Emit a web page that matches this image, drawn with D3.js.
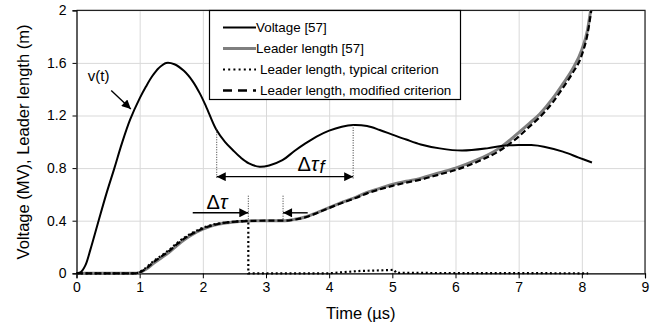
<!DOCTYPE html>
<html>
<head>
<meta charset="utf-8">
<script src="https://cdn.jsdelivr.net/npm/d3@7"></script>
<style>
  body { margin: 0; background: #fff; }
  svg, svg text { font-family: "Liberation Sans", Arial, sans-serif; }
  .grid line { stroke: #d9d9d9; stroke-width: 1; }
  .grid path { display: none; }
</style>
</head>
<body>
<script>
let w = 658;
let h = 326;

// x ticks / y ticks
let xTicks = [0, 1, 2, 3, 4, 5, 6, 7, 8, 9];
let yTicks = [0, 0.4, 0.8, 1.2, 1.6, 2];

// Voltage [57]
let voltT = [0, 0.07, 0.14, 0.22, 0.35, 0.47, 0.6, 0.72, 0.85, 1.0, 1.1, 1.2, 1.3, 1.42, 1.55, 1.7, 1.84, 1.95, 2.05, 2.21, 2.35, 2.47, 2.6, 2.73, 2.9, 3.05, 3.26, 3.45, 3.63, 3.8, 4.0, 4.2, 4.38, 4.6, 4.8, 5.0, 5.22, 5.45, 5.75, 6.1, 6.5, 6.75, 7.0, 7.2, 7.4, 7.7, 7.95, 8.16];
let voltV = [0, 0.01, 0.06, 0.18, 0.4, 0.6, 0.8, 0.99, 1.17, 1.33, 1.42, 1.5, 1.56, 1.60, 1.59, 1.54, 1.46, 1.37, 1.27, 1.095, 1.0, 0.94, 0.88, 0.836, 0.81, 0.82, 0.86, 0.93, 0.99, 1.04, 1.085, 1.115, 1.128, 1.12, 1.09, 1.055, 1.017, 0.98, 0.95, 0.933, 0.95, 0.97, 0.976, 0.975, 0.963, 0.925, 0.88, 0.843];

// Leader length [57]
let leadT = [0, 0.95, 1.1, 1.22, 1.35, 1.48, 1.6, 1.74, 1.87, 2.0, 2.13, 2.26, 2.4, 2.53, 2.73, 3.0, 3.3, 3.45, 3.64, 3.8, 4.0, 4.2, 4.43, 4.6, 4.8, 5.0, 5.22, 5.43, 5.75, 6.0, 6.33, 6.69, 7.0, 7.17, 7.33, 7.54, 7.7, 7.85, 8.0, 8.09, 8.14];
let leadV = [0, 0, 0.03, 0.076, 0.12, 0.165, 0.215, 0.266, 0.305, 0.335, 0.36, 0.375, 0.385, 0.392, 0.398, 0.4, 0.4, 0.41, 0.43, 0.46, 0.5, 0.54, 0.58, 0.615, 0.646, 0.675, 0.70, 0.72, 0.765, 0.80, 0.86, 0.95, 1.07, 1.14, 1.21, 1.33, 1.44, 1.55, 1.70, 1.85, 2.0];

// Leader length, typical criterion (rise, then collapse)
let typRiseT = [0, 0.93, 1.08, 1.2, 1.33, 1.46, 1.58, 1.72, 1.85, 1.98, 2.12, 2.25, 2.4, 2.53, 2.72];
let typRiseV = [0, 0, 0.035, 0.085, 0.13, 0.175, 0.225, 0.275, 0.312, 0.342, 0.365, 0.379, 0.388, 0.394, 0.399];
let typTailT = [2.72, 2.72, 4.0, 4.2, 4.5, 4.8, 5.03, 5.06, 8.1];
let typTailV = [0.399, 0, 0, 0.008, 0.018, 0.022, 0.026, 0.003, 0];

// Leader length, modified criterion
let modT = [0, 0.95, 1.1, 1.22, 1.35, 1.48, 1.6, 1.74, 1.87, 2.0, 2.13, 2.26, 2.4, 2.53, 2.73, 3.0, 3.3, 3.45, 3.64, 3.8, 4.0, 4.2, 4.43, 4.6, 4.8, 5.0, 5.22, 5.43, 5.75, 6.0, 6.33, 6.69, 7.0, 7.17, 7.33, 7.54, 7.7, 7.85, 8.0, 8.09, 8.15];
let modV = [0, 0, 0.035, 0.085, 0.13, 0.175, 0.225, 0.275, 0.31, 0.34, 0.362, 0.377, 0.387, 0.393, 0.398, 0.4, 0.4, 0.408, 0.428, 0.457, 0.497, 0.535, 0.575, 0.608, 0.638, 0.665, 0.69, 0.71, 0.752, 0.785, 0.845, 0.93, 1.04, 1.115, 1.185, 1.3, 1.41, 1.52, 1.66, 1.82, 2.0];

let legendLabels = ["Voltage [57]", "Leader length [57]", "Leader length, typical criterion", "Leader length, modified criterion"];

let zip = (a, b) => a.map((t, i) => [t, b[i]]);

let xScale = d3.scaleLinear().domain([0, 9]).range([76.5, 645]);
let yScale = d3.scaleLinear().domain([0, 2]).range([273.3, 10.3]);

let svg = d3.select("body")
  .append("svg")
  .attr("width", w)
  .attr("height", h);

svg.append("rect").attr("width", w).attr("height", h).attr("fill", "#fff");

let defs = svg.append("defs");
defs.append("marker")
  .attr("id", "arr")
  .attr("viewBox", "0 0 10 10")
  .attr("refX", 10).attr("refY", 5)
  .attr("markerWidth", 10).attr("markerHeight", 9)
  .attr("markerUnits", "userSpaceOnUse")
  .attr("orient", "auto-start-reverse")
  .append("path")
  .attr("d", "M0,0 L10,5 L0,10 Z")
  .attr("fill", "#000");

// grid
svg.append("g")
  .attr("class", "grid")
  .attr("transform", "translate(0," + yScale(0) + ")")
  .call(d3.axisBottom(xScale).tickValues(xTicks).tickSize(-(yScale(0) - yScale(2))).tickFormat(""));
svg.append("g")
  .attr("class", "grid")
  .attr("transform", "translate(" + xScale(0) + ",0)")
  .call(d3.axisLeft(yScale).tickValues(yTicks).tickSize(-(xScale(9) - xScale(0))).tickFormat(""));

// frame top/right
svg.append("path")
  .attr("d", "M" + xScale(0) + "," + yScale(2) + "H" + xScale(9) + "V" + yScale(0))
  .attr("fill", "none")
  .attr("stroke", "#222")
  .attr("stroke-width", 1.2);

// axes
let xAxis = svg.append("g")
  .attr("transform", "translate(0," + yScale(0) + ")")
  .call(d3.axisBottom(xScale).tickValues(xTicks).tickSize(5).tickPadding(4).tickFormat(d3.format("d")));
let yAxis = svg.append("g")
  .attr("transform", "translate(" + xScale(0) + ",0)")
  .call(d3.axisLeft(yScale).tickValues(yTicks).tickSize(4).tickPadding(6).tickFormat((d) => String(d)));
[xAxis, yAxis].forEach((g) => {
  g.attr("font-family", "'Liberation Sans', Arial, sans-serif").attr("font-size", 14);
  g.selectAll("text").attr("fill", "#000");
  g.selectAll("line").attr("stroke", "#000");
  g.select(".domain").attr("stroke", "#000").attr("stroke-width", 1.2);
});

// lines
let line = d3.line()
  .x((d) => xScale(d[0]))
  .y((d) => yScale(d[1]))
  .curve(d3.curveMonotoneX);
let smooth = d3.line()
  .x((d) => xScale(d[0]))
  .y((d) => yScale(d[1]))
  .curve(d3.curveCatmullRom.alpha(0.5));
let lineLin = d3.line()
  .x((d) => xScale(d[0]))
  .y((d) => yScale(d[1]));

svg.append("path")
  .attr("d", line(zip(leadT, leadV)))
  .attr("fill", "none").attr("stroke", "#7f7f7f").attr("stroke-width", 3);

svg.append("path")
  .attr("d", line(zip(modT, modV)))
  .attr("fill", "none").attr("stroke", "#000").attr("stroke-width", 2.2)
  .attr("stroke-dasharray", "6,3");

svg.append("path")
  .attr("d", line(zip(typRiseT, typRiseV)) + lineLin(zip(typTailT, typTailV)).replace(/^M/, "L"))
  .attr("fill", "none").attr("stroke", "#000").attr("stroke-width", 2.2)
  .attr("stroke-dasharray", "2,2.6");

svg.append("path")
  .attr("d", smooth(zip(voltT, voltV)))
  .attr("fill", "none").attr("stroke", "#000").attr("stroke-width", 2);

// annotations
let ann = svg.append("g");
let vline = (t, v0, v1) => ann.append("line")
  .attr("x1", xScale(t)).attr("x2", xScale(t))
  .attr("y1", yScale(v0)).attr("y2", yScale(v1))
  .attr("stroke", "#333").attr("stroke-width", 1).attr("stroke-dasharray", "1,1.5");
vline(2.22, 1.095, 0.72);
vline(4.38, 1.128, 0.72);
vline(2.72, 0.59, 0.4);
vline(3.27, 0.59, 0.4);

let arrow = (t0, v0, t1, v1, both) => {
  let a = ann.append("line")
    .attr("x1", xScale(t0)).attr("y1", yScale(v0))
    .attr("x2", xScale(t1)).attr("y2", yScale(v1))
    .attr("stroke", "#000").attr("stroke-width", 1.4)
    .attr("marker-end", "url(#arr)");
  if (both) a.attr("marker-start", "url(#arr)");
};
arrow(0.55, 1.39, 0.86, 1.25, false);
arrow(2.22, 0.735, 4.38, 0.735, true);
arrow(1.84, 0.46, 2.72, 0.46, false);
arrow(3.66, 0.46, 3.27, 0.46, false);

ann.append("text")
  .attr("x", xScale(0.35)).attr("y", yScale(1.46))
  .attr("text-anchor", "middle").attr("font-size", 15)
  .text("v(t)");

let tf = ann.append("text")
  .attr("x", xScale(3.5)).attr("y", yScale(0.775))
  .attr("font-size", 20);
tf.append("tspan").text("Δ");
tf.append("tspan").attr("font-style", "italic").text("τ");
tf.append("tspan").attr("font-style", "italic").attr("font-size", 18).attr("dy", 2).attr("dx", 1).text("f");

let dt = ann.append("text")
  .attr("x", xScale(2.06)).attr("y", yScale(0.49))
  .attr("font-size", 20);
dt.append("tspan").text("Δ");
dt.append("tspan").attr("font-style", "italic").text("τ");

// axis titles
svg.append("text")
  .attr("x", (xScale(0) + xScale(9)) / 2).attr("y", 319)
  .attr("text-anchor", "middle").attr("font-size", 16.5)
  .text("Time (µs)");
svg.append("text")
  .attr("transform", "translate(29," + 142 + ") rotate(-90)")
  .attr("text-anchor", "middle").attr("font-size", 16.5)
  .text("Voltage (MV), Leader length (m)");

// legend
let leg = svg.append("g");
leg.append("rect")
  .attr("x", 209.5).attr("y", 10.5).attr("width", 251).attr("height", 89)
  .attr("fill", "#fff").attr("stroke", "#000").attr("stroke-width", 1.2);
let legStyles = [
  { stroke: "#000", width: 2, dash: null, gap: 0 },
  { stroke: "#7f7f7f", width: 3, dash: null, gap: 0 },
  { stroke: "#000", width: 2.2, dash: "2,3.2", gap: 4 },
  { stroke: "#000", width: 2.5, dash: "9,6", gap: 4 },
];
legendLabels.forEach((lab, i) => {
  let y = 27.5 + i * 21;
  leg.append("line")
    .attr("x1", 223).attr("x2", 256).attr("y1", y).attr("y2", y)
    .attr("stroke", legStyles[i].stroke).attr("stroke-width", legStyles[i].width)
    .attr("stroke-dasharray", legStyles[i].dash);
  leg.append("text")
    .attr("x", 256 + legStyles[i].gap).attr("y", y + 4.8)
    .attr("font-size", 13.4)
    .text(lab);
});
</script>
</body>
</html>
